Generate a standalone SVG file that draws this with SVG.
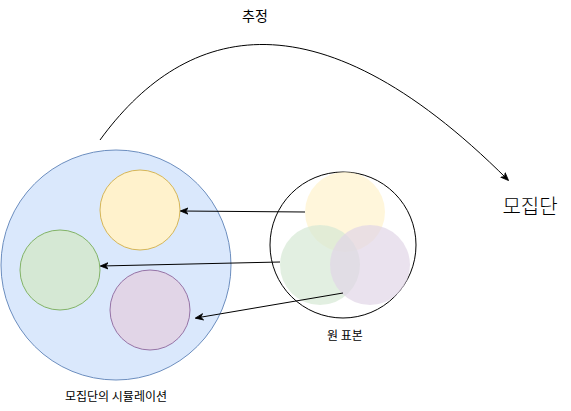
<svg xmlns="http://www.w3.org/2000/svg" width="571" height="411" viewBox="0 0 571 411">
<style>
text{font-family:"Noto Sans CJK KR","Liberation Sans",sans-serif;fill:#000;text-anchor:middle;dominant-baseline:central}
.s{font-size:12px}
.c{stroke:#000;stroke-width:1;fill:none}
.f{opacity:0.7;stroke:none}
</style>
<defs>
<marker id="a" viewBox="0 0 10 10" refX="9" refY="5" markerWidth="8" markerHeight="8" orient="auto" markerUnits="userSpaceOnUse">
<path d="M0,1 L10,5 L0,9 L3,5 Z" fill="#000" stroke="#000" stroke-width="1"/>
</marker>
</defs>
<rect width="571" height="411" fill="#fff"/>
<g id="population-sim">
<circle cx="116" cy="265" r="115" fill="#dae8fc" stroke="#6c8ebf"/>
<circle cx="140" cy="210" r="40" fill="#fff2cc" stroke="#d6b656"/>
<circle cx="60" cy="270" r="40" fill="#d5e8d4" stroke="#82b366"/>
<circle cx="150" cy="310" r="40" fill="#e1d5e7" stroke="#9673a6"/>
<text class="s" x="116" y="395">모집단의 시뮬레이션</text>
</g>
<g id="sample">
<circle cx="343" cy="245" r="73" fill="#fff" stroke="#000"/>
<circle class="f" cx="345" cy="212" r="40" fill="#fff2cc"/>
<circle class="f" cx="320" cy="265" r="40" fill="#d5e8d4"/>
<circle class="f" cx="370" cy="265" r="40" fill="#e1d5e7"/>
<text class="s" x="345" y="334">원 표본</text>
</g>
<g id="population">
<text x="530" y="205" style="font-size:20px;font-weight:300">모집단</text>
</g>
<g id="estimate-label">
<text x="255" y="15" style="font-size:14px">추정</text>
</g>
<g id="connectors">
<path class="c" d="M305,212 L181,211" marker-end="url(#a)"/>
<path class="c" d="M280,262 L101,266" marker-end="url(#a)"/>
<path class="c" d="M343,293 L196,318" marker-end="url(#a)"/>
<path class="c" d="M100,140 C180,30 310,-18 508,180" marker-end="url(#a)"/>
</g>
</svg>
